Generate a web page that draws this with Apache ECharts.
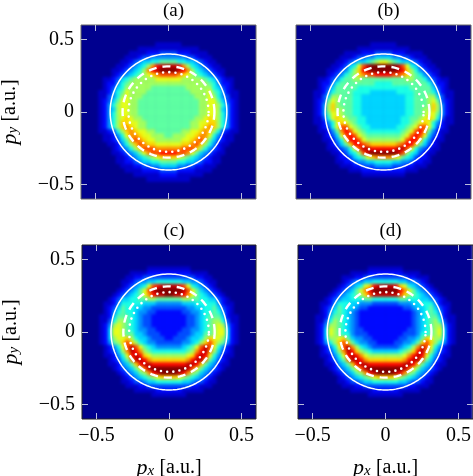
<!DOCTYPE html>
<html>
<head>
<meta charset="utf-8">
<style>
  html, body { margin: 0; background: #fff; }
  #heat, #plot { position: absolute; left: 0; top: 0; width: 473px; height: 476px; }
  /* smooth the coarse read-off cells, keep them inside the four frames */
  #heat { filter: blur(1.6px); clip-path: path("M81 25H256V199H81Z M296 25H471V199H296Z M82 245H256V419H82Z M298 245H473V419H298Z"); }
</style>
<script src="https://cdn.jsdelivr.net/npm/echarts@6/dist/echarts.min.js"></script>
</head>
<body>
<div id="heat"></div>
<div id="plot"></div>
<script>
// one hex digit per cell (0 = background, f = top of the colour scale)
// rows run from py=+0.465 down to py=-0.465, columns from px=0.015 to 0.465
// the pictures are mirror symmetric in px so only the right half is kept
const panelA = [
  "1110000000000000","1111111000000000","3322211110000000","4444332111000000",
  "7766554321100000","eedb865432110000","ffedb86543211000","ccba987654321000",
  "9998888876532110","8888888887642210","7777888888653210","7777788889764211",
  "7777778889864311","7777777889975321","7777777889986421","7777777889985421",
  "7777777889986421","777777889a986421","777778899aa86421","77777889aba86421",
  "7778899aba863211","788899abb9642110","88899abca7532110","999aabca86421100",
  "bbbccca864321000","ddccb97543211000","aa98765432110000","7766554322110000",
  "5544332211100000","3322221111000000","2211111100000000","1111100000000000"
];
const panelB = [
  "1110000000000000","1111110000000000","3322211110000000","5544332111000000",
  "9876554321100000","fffec96532110000","fffeda8643211000","ddccba8764321000",
  "7777788776432110","6677777777642210","6666667777753210","5556666777764211",
  "5555566777885311","5555566777897321","55555667778a8421","55555667788a8421",
  "5555566778997421","5555667789a96311","555566789a964211","55566789cc963210",
  "6666789cdb742110","777789cdc9532100","88889cdda6421100","aaabcdda75321000",
  "dddeec9643211000","fffec86532110000","bba9765322100000","6655443221100000",
  "4433322111000000","2222211100000000","1111100000000000","0000000000000000"
];
const panelC = [
  "0000000000000000","1111100000000000","2222211110000000","3333332211000000",
  "6665544321100000","eedc965432100000","fffec97543210000","feedb97654321000",
  "7778877665532100","4445556666642110","3333445566753210","2223344566764210",
  "2222334567775211","2222334567886311","2222334567898421","2223344567899521",
  "2233345577899521","233345568a998521","33344568aca87421","4445679cec964210",
  "666678bdeb853210","88889aded9642110","aaaabdeeb7532100","ddddeeda75421100",
  "ffffec9754321000","ffedb87543210000","aa98765432100000","6665543321100000",
  "3333322111000000","2221111100000000","1111000000000000","0000000000000000"
];
const panelD = [
  "0000000000000000","1111000000000000","2222111100000000","3333322111000000",
  "6665544321000000","eeda965432100000","fffdb97543210000","eeeca87654321000",
  "6667766655432100","3334445566642110","2222334556753210","2222223456764210",
  "2222223456775211","2222223456786311","2222223456788421","2222233456789521",
  "2222333466789521","222334457a988521","22334457aca86421","3334568bec964210",
  "555678adeb853210","88889bded9642110","aaaabdeeb7532100","ddddeeda75421100",
  "ffffec9754321000","ffedb87543210000","aa98765432100000","6665543321100000",
  "3333322111000000","2221111100000000","1111000000000000","0000000000000000"
];
const panelNames = ['(a)', '(b)', '(c)', '(d)'];
const tickValues = [-0.5, 0, 0.5];
const circleRadii = [0.4, 0.315, 0.275];

const panels = [panelA, panelB, panelC, panelD];
const frames = [
  { left: 81, top: 25, width: 175, height: 174 },
  { left: 296, top: 25, width: 175, height: 174 },
  { left: 82, top: 245, width: 174, height: 174 },
  { left: 298, top: 245, width: 175, height: 174 }
];
const FONT = 'Liberation Serif';
const CELLS = 40, PAD = 4;
const cellIds = [];
for (let i = 0; i < CELLS; i++) cellIds.push(i);

// heat layer
const heatOption = {
  animation: false,
  backgroundColor: '#00008f',
  visualMap: {
    show: false, min: 0, max: 15, seriesIndex: [0, 1, 2, 3],
    inRange: { color: ['#00008f', '#0000ff', '#0080ff', '#00ffff', '#80ff80', '#ffff00', '#ff8000', '#ff0000', '#800000'] }
  },
  grid: [], xAxis: [], yAxis: [], series: []
};
panels.forEach(function (rows, p) {
  heatOption.grid.push(Object.assign({ show: false, outerBoundsMode: 'none' }, frames[p]));
  heatOption.xAxis.push({ type: 'category', gridIndex: p, data: cellIds, show: false });
  heatOption.yAxis.push({ type: 'category', gridIndex: p, data: cellIds, inverse: true, show: false });
  const data = [];
  rows.forEach(function (half, r) {
    const cells = half.split('').reverse().concat(half.split(''));
    cells.forEach(function (c, k) {
      data.push([k + PAD, r + PAD, parseInt(c, 16)]);
    });
  });
  heatOption.series.push({ type: 'heatmap', xAxisIndex: p, yAxisIndex: p, data: data, progressive: 0, silent: true });
});
echarts.init(document.getElementById('heat')).setOption(heatOption);

// frames, ticks, labels and reference circles
const tickFmt = function (v) {
  return v < 0 ? '\u2212' + Math.abs(v) : String(v);
};
const nameRich = {
  p: { fontFamily: FONT, fontStyle: 'italic', fontSize: 22, color: '#000' },
  s: { fontFamily: FONT, fontStyle: 'italic', fontSize: 15, color: '#000', verticalAlign: 'bottom', padding: [7, 2, 0, 0] },
  t: { fontFamily: FONT, fontSize: 20, color: '#000' }
};
function valueAxis(p, position, labelled, name) {
  return {
    type: 'value', gridIndex: p, position: position, min: -0.6, max: 0.6,
    splitLine: { show: false }, axisLine: { show: false, onZero: false },
    axisTick: { show: true, inside: true, length: 6, customValues: tickValues, lineStyle: { color: '#b9bcdc', width: 1 } },
    axisLabel: { show: labelled, customValues: tickValues, formatter: tickFmt, fontFamily: FONT, fontSize: 20, color: '#000', margin: 7 },
    name: name ? name.text : '', nameLocation: 'middle', nameGap: name ? name.gap : 0,
    nameTextStyle: { rich: nameRich }
  };
}
const plotOption = {
  animation: false,
  title: [], grid: [], xAxis: [], yAxis: [], series: []
};
frames.forEach(function (f, p) {
  plotOption.title.push({
    text: panelNames[p], left: f.left + f.width / 2, top: f.top - 28, textAlign: 'center',
    textStyle: { fontFamily: FONT, fontSize: 19, fontWeight: 'normal', color: '#000' }
  });
  plotOption.grid.push({ left: f.left, top: f.top, width: f.width, height: f.height, outerBoundsMode: 'none', show: true, backgroundColor: 'transparent', borderColor: p < 2 ? '#666' : '#222', borderWidth: 1 });
  const xIdx = plotOption.xAxis.length, yIdx = plotOption.yAxis.length;
  plotOption.xAxis.push(valueAxis(p, 'bottom', p >= 2, p >= 2 ? { text: '{p|p}{s|x} {t|[a.u.]}', gap: 38 } : null));
  plotOption.xAxis.push(valueAxis(p, 'top', false));
  plotOption.yAxis.push(valueAxis(p, 'left', p % 2 === 0, p % 2 === 0 ? { text: '{p|p}{s|y} {t|[a.u.]}', gap: 60 } : null));
  plotOption.yAxis.push(valueAxis(p, 'right', false));
  const styles = [
    { color: '#fff', width: 1.5 },
    { color: '#fff', width: 2.4, type: [8, 6] },
    { color: '#fff', width: 2.6, type: [0, 6.2], cap: 'round' }
  ];
  circleRadii.forEach(function (rad, c) {
    const pts = [];
    for (let a = 0; a <= 360; a += 2) {
      pts.push([rad * Math.cos(a * Math.PI / 180), rad * Math.sin(a * Math.PI / 180)]);
    }
    plotOption.series.push({ type: 'line', xAxisIndex: xIdx, yAxisIndex: yIdx, data: pts, showSymbol: false, silent: true, lineStyle: styles[c] });
  });
});
echarts.init(document.getElementById('plot')).setOption(plotOption);
</script>
</body>
</html>
